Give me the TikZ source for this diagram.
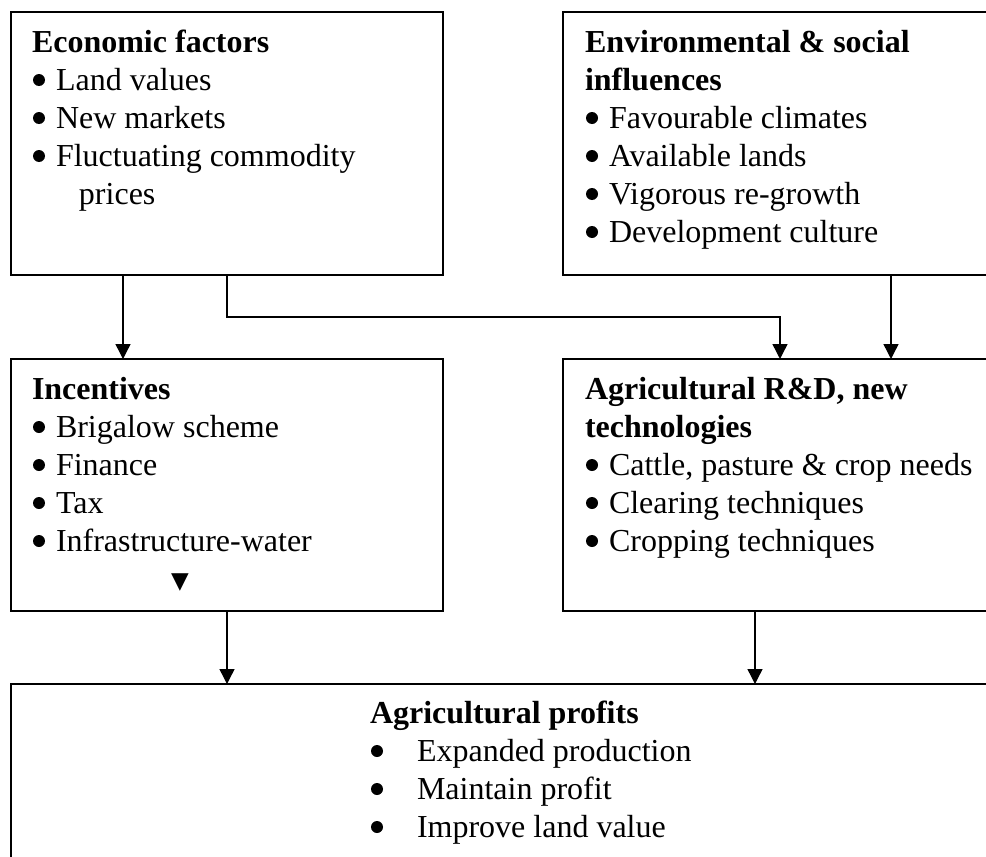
\documentclass[tikz,border=0pt]{standalone}
\usepackage{fontspec}
\setmainfont{Liberation Serif}
\newfontfamily\symfont{DejaVu Sans}
\usetikzlibrary{arrows.meta}

% round bullet sitting 10pt above the baseline
\newcommand\dotmark{\tikz[baseline=-10pt]\fill (0,0) circle (6pt);}
% one bulleted line; optional argument = gap from bullet to text
\newcommand\itemline[2][23pt]{\hbox{\hspace*{1pt}\makebox[#1][l]{\dotmark}#2}}
\newcommand\headline[1]{\hbox{\bfseries #1}}
\newcommand\plainline[1]{\hbox{#1}}
% stack of lines whose baseline is the first line
\newcommand\boxtext[1]{\vtop{\baselineskip=38pt\lineskiplimit=-100pt\lineskip=0pt #1}}

\tikzset{
  panel/.style={draw=black, line width=1.6pt, rectangle, inner sep=0pt, outer sep=0pt, anchor=north west},
  mainpanel/.style={panel, line width=2.4pt},
  txt/.style={anchor=base west, inner sep=0pt, outer sep=0pt, font=\fontsize{32pt}{38pt}\selectfont},
  arr/.style={line width=1.4pt, -{Triangle[length=15pt,width=15pt]}},
}

\begin{document}
\begin{tikzpicture}[x=1pt, y=-1pt]
  \useasboundingbox (0,0) rectangle (986,857);
  \clip (0,0) rectangle (986,857);
  \fill[white] (0,0) rectangle (986,857);

  % boxes
  \node[panel, minimum width=432pt, minimum height=263pt] (eco) at (11,12) {};
  \node[panel, minimum width=437pt, minimum height=263pt] (env) at (563,12) {};
  \node[panel, minimum width=432pt, minimum height=252pt] (inc) at (11,359) {};
  \node[panel, minimum width=437pt, minimum height=252pt] (rd) at (563,359) {};
  \node[mainpanel, minimum width=989pt, minimum height=200pt] (prof) at (11,684) {};

  % box contents
  \node[txt] (ecotext) at (32,52) {\boxtext{%
    \headline{Economic factors}%
    \itemline{Land values}%
    \itemline{New markets}%
    \itemline{Fluctuating commodity}%
    \plainline{\hspace*{47pt}prices}}};

  \node[txt] (envtext) at (585,52) {\boxtext{%
    \headline{Environmental \& social}%
    \headline{influences}%
    \itemline{Favourable climates}%
    \itemline{Available lands}%
    \itemline{Vigorous re-growth}%
    \itemline{Development culture}}};

  \node[txt] (inctext) at (32,399) {\boxtext{%
    \headline{Incentives}%
    \itemline{Brigalow scheme}%
    \itemline{Finance}%
    \itemline{Tax}%
    \itemline{Infrastructure-water}}};
  \node[inner sep=0pt, font=\symfont\fontsize{23pt}{25pt}\selectfont] (tri) at (180,583) {▼};

  \node[txt] (rdtext) at (585,399) {\boxtext{%
    \headline{Agricultural R\&D, new}%
    \headline{technologies}%
    \itemline{Cattle, pasture \& crop needs}%
    \itemline{Clearing techniques}%
    \itemline{Cropping techniques}}};

  \node[txt] (proftext) at (370,723) {\boxtext{%
    \headline{Agricultural profits}%
    \itemline[46pt]{Expanded production}%
    \itemline[46pt]{Maintain profit}%
    \itemline[46pt]{Improve land value}}};

  % connectors
  \draw[arr] ([xshift=112pt]eco.south west) -- ([xshift=112pt]inc.north west);
  \draw[arr] ([xshift=216pt]eco.south west) -- ++(0,42) -| ([xshift=217pt]rd.north west);
  \draw[arr] ([xshift=328pt]env.south west) -- ([xshift=328pt]rd.north west);
  \draw[arr] ([xshift=216pt]inc.south west) -- ([xshift=216pt]prof.north west);
  \draw[arr] ([xshift=192pt]rd.south west) -- ([xshift=744pt]prof.north west);
\end{tikzpicture}
\end{document}
